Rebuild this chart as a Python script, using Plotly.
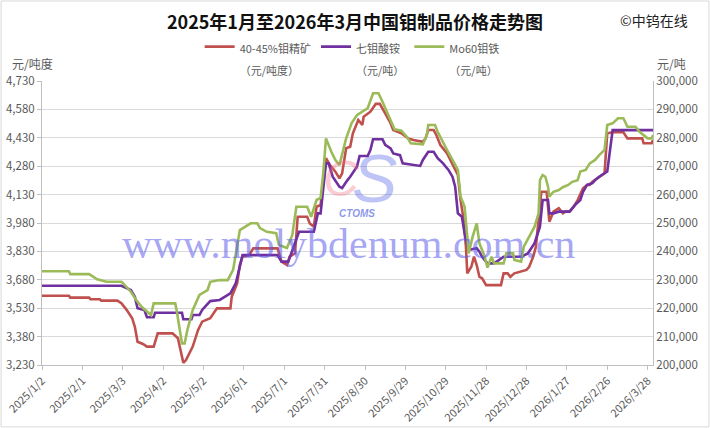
import plotly.graph_objects as go

# ---------------- data ----------------
red_dates = ["2025-01-02","2025-01-22","2025-01-23","2025-02-06","2025-02-07","2025-02-14","2025-02-15","2025-02-27",
"2025-03-02","2025-03-06","2025-03-10","2025-03-12","2025-03-14","2025-03-18","2025-03-21","2025-03-26","2025-03-29",
"2025-04-09","2025-04-13","2025-04-16","2025-04-17","2025-04-19","2025-04-24","2025-04-28","2025-05-01","2025-05-07",
"2025-05-12","2025-05-22","2025-05-23","2025-05-27","2025-05-29","2025-05-31","2025-06-05","2025-06-08","2025-06-26",
"2025-06-29","2025-07-03","2025-07-05","2025-07-09","2025-07-11","2025-07-18","2025-07-20","2025-07-23","2025-07-25",
"2025-07-28","2025-08-01","2025-08-04","2025-08-08","2025-08-11","2025-08-13","2025-08-16","2025-08-19","2025-08-21",
"2025-08-25","2025-08-28","2025-08-29","2025-09-03","2025-09-07","2025-09-10","2025-09-14","2025-09-18","2025-09-20",
"2025-09-26","2025-10-01","2025-10-05","2025-10-12","2025-10-14","2025-10-16","2025-10-20","2025-10-22","2025-10-25",
"2025-10-30","2025-11-03","2025-11-07","2025-11-09","2025-11-11","2025-11-13","2025-11-14","2025-11-17","2025-11-19",
"2025-11-21","2025-11-23","2025-11-25","2025-11-28","2025-12-09","2025-12-11","2025-12-14","2025-12-16","2025-12-19",
"2025-12-24","2025-12-28","2025-12-30","2026-01-02","2026-01-04","2026-01-06","2026-01-08","2026-01-12","2026-01-14",
"2026-01-17","2026-01-21","2026-01-24","2026-01-26","2026-01-29","2026-02-01","2026-02-04","2026-02-08","2026-02-11",
"2026-02-13","2026-02-15","2026-02-19","2026-02-24","2026-02-26","2026-03-02","2026-03-10","2026-03-13","2026-03-24",
"2026-03-25","2026-03-31","2026-04-01"]
red_values = [3596,3596,3586,3586,3577,3577,3570,3570,
3556,3520,3477,3432,3353,3341,3327,3327,3397,
3397,3371,3265,3242,3256,3327,3415,3459,3477,
3529,3529,3591,3661,3758,3802,3811,3846,3846,
3776,3758,3802,3820,4013,4013,3978,3960,4066,
4075,4322,4286,4251,4216,4242,4375,4383,4454,
4524,4498,4541,4568,4609,4609,4559,4507,4471,
4454,4427,4418,4409,4427,4471,4471,4445,4392,
4348,4295,4234,4101,4013,3855,3714,3749,3802,
3758,3696,3688,3652,3652,3714,3714,3696,3714,
3723,3732,3749,3802,3855,3996,4145,4145,3987,
4040,4058,4031,4040,4040,4066,4101,4163,4181,
4181,4198,4216,4242,4454,4459,4459,4427,4427,
4401,4401,4418]

purple_dates = ["2025-01-02","2025-03-02","2025-03-09","2025-03-12","2025-03-14","2025-03-19","2025-03-21","2025-03-26",
"2025-03-27","2025-04-16","2025-04-17","2025-04-23","2025-04-24","2025-04-29","2025-05-01","2025-05-05","2025-05-07",
"2025-05-14","2025-05-22","2025-05-26","2025-05-31","2025-06-26","2025-06-29","2025-07-04","2025-07-07","2025-07-12",
"2025-07-23","2025-07-26","2025-07-28","2025-08-01","2025-08-03","2025-08-06","2025-08-11","2025-08-13","2025-08-17",
"2025-08-19","2025-08-24","2025-08-26","2025-09-01","2025-09-03","2025-09-05","2025-09-12","2025-09-14","2025-09-18",
"2025-09-20","2025-09-25","2025-09-27","2025-10-10","2025-10-12","2025-10-16","2025-10-20","2025-10-23","2025-10-27",
"2025-10-31","2025-11-03","2025-11-05","2025-11-07","2025-11-10","2025-11-12","2025-11-15","2025-11-21","2025-11-23",
"2025-11-25","2025-11-29","2025-12-04","2025-12-11","2025-12-24","2025-12-29","2026-01-03","2026-01-07","2026-01-09",
"2026-01-13","2026-01-14","2026-01-17","2026-01-21","2026-01-29","2026-02-02","2026-02-06","2026-02-08","2026-02-11",
"2026-02-15","2026-02-17","2026-02-20","2026-02-26","2026-03-02","2026-04-01"]
purple_values = [227900,227900,226400,224000,220000,219400,216800,216800,
218400,218400,216100,216100,217600,217600,219400,221700,222500,
222900,225200,228800,238700,238700,236400,236400,240500,246900,
246900,253400,253400,271000,271000,266300,262800,262300,265100,
266300,269800,273600,273600,275700,279500,279500,277500,276300,
274500,273900,271000,270100,272200,275100,275100,272800,271000,
268700,266300,262800,253400,252200,246400,240500,241100,239900,
238100,235800,235800,238100,238100,239300,242900,248700,258100,
258100,253400,253400,254000,254000,256300,258100,261000,263400,
264000,265100,266300,268100,282700,282700]

green_dates = ["2025-01-02","2025-01-22","2025-01-23","2025-02-06","2025-02-09","2025-02-12","2025-02-19","2025-03-02",
"2025-03-03","2025-03-09","2025-03-13","2025-03-17","2025-03-24","2025-03-26","2025-04-11","2025-04-12","2025-04-16",
"2025-04-18","2025-04-20","2025-04-24","2025-04-29","2025-05-05","2025-05-07","2025-05-14","2025-05-20","2025-05-24",
"2025-05-29","2025-06-06","2025-06-11","2025-06-13","2025-06-18","2025-06-25","2025-06-27","2025-07-03","2025-07-07",
"2025-07-10","2025-07-18","2025-07-21","2025-07-25","2025-07-28","2025-07-30","2025-08-01","2025-08-05","2025-08-08",
"2025-08-11","2025-08-14","2025-08-16","2025-08-20","2025-08-24","2025-08-28","2025-09-01","2025-09-05","2025-09-09",
"2025-09-12","2025-09-15","2025-09-19","2025-09-21","2025-09-26","2025-09-30","2025-10-03","2025-10-12","2025-10-15",
"2025-10-16","2025-10-21","2025-10-23","2025-10-26","2025-10-30","2025-11-03","2025-11-07","2025-11-09","2025-11-12",
"2025-11-14","2025-11-15","2025-11-18","2025-11-21","2025-11-23","2025-11-27","2025-11-29","2025-12-02","2025-12-04",
"2025-12-11","2025-12-13","2025-12-18","2025-12-19","2025-12-24","2025-12-26","2025-12-30","2026-01-03","2026-01-06",
"2026-01-07","2026-01-09","2026-01-11","2026-01-13","2026-01-14","2026-01-17","2026-01-21","2026-01-24","2026-01-28",
"2026-01-31","2026-02-04","2026-02-06","2026-02-10","2026-02-13","2026-02-17","2026-02-20","2026-02-24","2026-02-26",
"2026-03-02","2026-03-06","2026-03-10","2026-03-13","2026-03-19","2026-03-22","2026-03-28","2026-03-31","2026-04-01"]
green_values = [233000,233000,232000,232000,231100,230200,229300,229300,
228900,225800,222900,220500,217600,221700,221700,219400,207600,
207600,212300,219400,224700,226400,229300,229900,229900,233500,
247500,249900,249900,248200,246900,246400,242300,241200,245800,
255700,255700,252200,258100,258800,267600,279800,275100,272200,
270400,275700,279800,285100,288000,289200,290400,295700,295700,
292700,289200,285100,283000,282500,280400,278100,277700,281000,
284500,284500,282100,279200,275700,272200,268700,259300,255700,
245200,239300,245200,249900,242900,238100,234300,238100,235800,
235800,239300,239300,237000,236400,241700,245200,248700,253400,
265100,266900,266300,262800,259300,261000,261600,262600,263400,
264500,265100,268100,268700,271000,272200,273900,275700,284500,
285100,286900,286900,283900,283900,282100,279800,279800,281000]

series_names = ["40-45%钼精矿", "七钼酸铵", "Mo60钼铁"]
series_units = ["（元/吨度）", "（元/吨）", "（元/吨）"]
tick_dates = ["2025-01-02","2025-02-01","2025-03-03","2025-04-02","2025-05-02","2025-06-01","2025-07-01","2025-07-31",
              "2025-08-30","2025-09-29","2025-10-29","2025-11-28","2025-12-28","2026-01-27","2026-02-26","2026-03-28"]
tick_text = ["2025/1/2","2025/2/1","2025/3/3","2025/4/2","2025/5/2","2025/6/1","2025/7/1","2025/7/31",
             "2025/8/30","2025/9/29","2025/10/29","2025/11/28","2025/12/28","2026/1/27","2026/2/26","2026/3/28"]
left_ticks = [3230, 3380, 3530, 3680, 3830, 3980, 4130, 4280, 4430, 4580, 4730]
right_ticks = [200000, 210000, 220000, 230000, 240000, 250000, 260000, 270000, 280000, 290000, 300000]

# ---------------- style ----------------
FONT = "Noto Sans CJK SC, Noto Sans, sans-serif"
GREY = "#595959"
RED, PURPLE, GREEN = "#C0504D", "#7030A0", "#9BBB59"


def legend_label(name, unit):
    s = "<span style='font-size:11px'>{}</span>"
    return s.format(name) + "<br>" + s.format(unit)


fig = go.Figure()
fig.add_trace(go.Scatter(x=red_dates, y=red_values, name=legend_label(series_names[0], series_units[0]),
                         mode="lines", line=dict(color=RED, width=2.6), yaxis="y"))
fig.add_trace(go.Scatter(x=purple_dates, y=purple_values, name=legend_label(series_names[1], series_units[1]),
                         mode="lines", line=dict(color=PURPLE, width=2.6), yaxis="y2"))
fig.add_trace(go.Scatter(x=green_dates, y=green_values, name=legend_label(series_names[2], series_units[2]),
                         mode="lines", line=dict(color=GREEN, width=2.6), yaxis="y2"))

fig.update_layout(
    template="none",
    width=710, height=428,
    margin=dict(l=42, r=57, t=81, b=63, pad=0),
    paper_bgcolor="white", plot_bgcolor="white",
    font=dict(family=FONT, size=11, color=GREY),
    title=dict(text="<b>2025年1月至2026年3月中国钼制品价格走势图</b>",
               x=0.5, xref="container", xanchor="center",
               y=0.947, yref="container", yanchor="middle",
               font=dict(family=FONT, size=18, color="#111111")),
    showlegend=True,
    legend=dict(orientation="h", x=0.258, xanchor="left", y=1.183, yanchor="top",
                valign="top", font=dict(family=FONT, size=17, color=GREY),
                bgcolor="rgba(0,0,0,0)", itemwidth=30, tracegroupgap=0),
    xaxis=dict(type="date", range=["2025-01-02", "2026-04-01"],
               tickmode="array", tickvals=tick_dates, ticktext=tick_text,
               tickangle=-45, ticks="outside", ticklen=4, tickcolor="#bfbfbf",
               showline=True, linecolor="#bfbfbf", linewidth=1, showgrid=False, zeroline=False,
               tickfont=dict(family=FONT, size=11, color=GREY)),
    yaxis=dict(range=[3230, 4730], tickmode="array", tickvals=left_ticks, tickformat=",",
               showgrid=True, gridcolor="#d9d9d9", gridwidth=1,
               ticks="outside", ticklen=4, tickcolor="#bfbfbf",
               showline=True, linecolor="#bfbfbf", linewidth=1, zeroline=False,
               tickfont=dict(family=FONT, size=11.5, color=GREY)),
    yaxis2=dict(range=[200000, 300000], tickmode="array", tickvals=right_ticks, tickformat=",",
                overlaying="y", side="right", showgrid=False,
                ticks="", showline=True, linecolor="#bfbfbf", linewidth=1, zeroline=False,
                tickfont=dict(family=FONT, size=11.5, color=GREY)),
)

# axis unit labels, credit, watermark
fig.add_annotation(text="元/吨度", xref="paper", yref="paper", x=-0.052, y=1.06, xanchor="left",
                   yanchor="middle", showarrow=False, font=dict(family=FONT, size=12, color=GREY))
fig.add_annotation(text="元/吨", xref="paper", yref="paper", x=1.003, y=1.06, xanchor="left",
                   yanchor="middle", showarrow=False, font=dict(family=FONT, size=12, color=GREY))
fig.add_annotation(text="©中钨在线", xref="paper", yref="paper", x=1.06, y=1.215, xanchor="right",
                   yanchor="middle", showarrow=False, font=dict(family=FONT, size=14, color="#222222"))
# CTOMS logo (approximation)
fig.add_annotation(text="<i>C</i>", xref="paper", yref="paper", x=0.49, y=0.655, xanchor="center",
                   yanchor="middle", showarrow=False,
                   font=dict(family="Liberation Sans", size=50, color="rgba(240,110,130,0.35)"))
fig.add_annotation(text="<i>S</i>", xref="paper", yref="paper", x=0.545, y=0.66, xanchor="center",
                   yanchor="middle", showarrow=False,
                   font=dict(family="Liberation Sans", size=68, color="rgba(70,90,230,0.35)"))
fig.add_annotation(text="<b><i>CTOMS</i></b>", xref="paper", yref="paper", x=0.516, y=0.535, xanchor="center",
                   yanchor="middle", showarrow=False,
                   font=dict(family="Liberation Sans", size=10, color="rgba(60,80,220,0.6)"))
fig.add_annotation(text="www.molybdenum.com.cn", xref="paper", yref="paper", x=0.502, y=0.425, xanchor="center",
                   yanchor="middle", showarrow=False,
                   font=dict(family="Liberation Serif", size=42, color="rgba(90,90,235,0.55)"))

# outer chart frame
fig.add_shape(type="rect", xref="paper", yref="paper", x0=-0.067, x1=1.0916, y0=-0.218, y1=1.2817,
              line=dict(color="#d9d9d9", width=1), fillcolor="rgba(0,0,0,0)", layer="below")

fig.write_html("out.html", config={"displayModeBar": False},
               post_script="document.body.style.margin='0';")
